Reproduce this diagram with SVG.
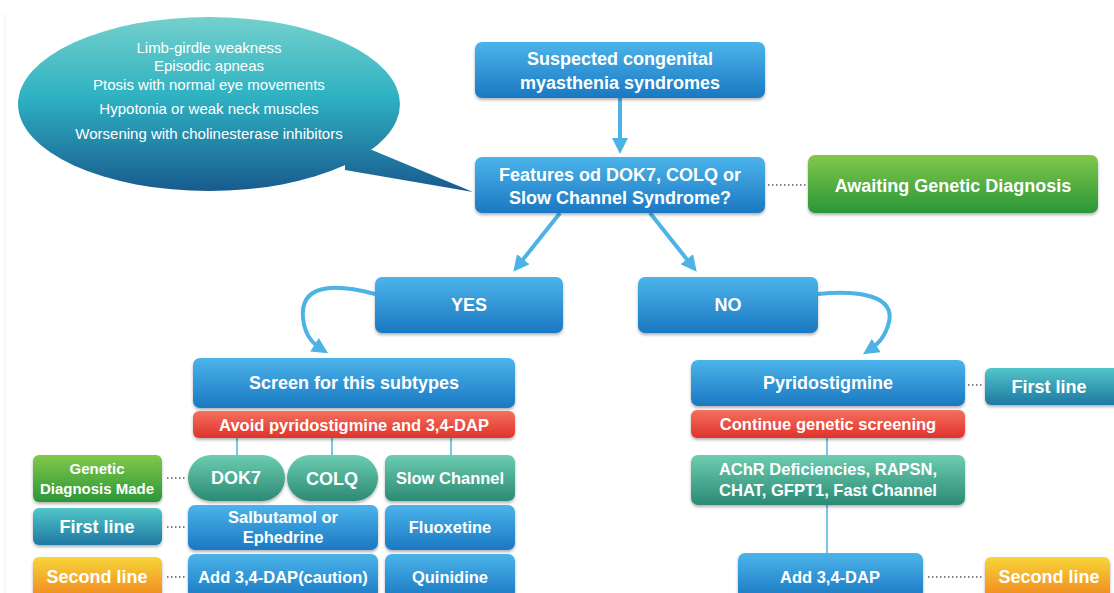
<svg xmlns="http://www.w3.org/2000/svg" width="1114" height="593" viewBox="0 0 1114 593">
<style>
text{font-family:"Liberation Sans",Arial,sans-serif;fill:#fff;text-anchor:middle;dominant-baseline:central}
.b{font-weight:bold;font-size:18px}
.m{font-weight:bold;font-size:18px}
.t{font-weight:bold;font-size:16.5px}
.s{font-size:15px}
.blue{fill:url(#gBlue);filter:url(#sh)}
.red{fill:url(#gRed);filter:url(#sh)}
.grn{fill:url(#gGrn);filter:url(#sh)}
.tea{fill:url(#gTeal);filter:url(#sh)}
.cyn{fill:url(#gCyan);filter:url(#sh)}
.org{fill:url(#gOrg);filter:url(#sh)}
.ln{stroke:#4cb3e4;stroke-width:4;fill:none}
.thin{stroke:#4cb3e4;stroke-width:1.5;fill:none}
.dot{stroke:#555;stroke-width:1.3;stroke-dasharray:1.5 2.5;fill:none}
</style>
<defs>
<linearGradient id="gBlue" x1="0" y1="0" x2="0" y2="1"><stop offset="0" stop-color="#4cb4ea"/><stop offset="1" stop-color="#1a78c2"/></linearGradient>
<linearGradient id="gRed" x1="0" y1="0" x2="0" y2="1"><stop offset="0" stop-color="#f4705f"/><stop offset="1" stop-color="#e0322a"/></linearGradient>
<linearGradient id="gGrn" x1="0" y1="0" x2="0" y2="1"><stop offset="0" stop-color="#82c84a"/><stop offset="1" stop-color="#2a9638"/></linearGradient>
<linearGradient id="gTeal" x1="0" y1="0" x2="0" y2="1"><stop offset="0" stop-color="#6ccdb0"/><stop offset="1" stop-color="#2b8a74"/></linearGradient>
<linearGradient id="gCyan" x1="0" y1="0" x2="0" y2="1"><stop offset="0" stop-color="#52c6c8"/><stop offset="1" stop-color="#1e78a2"/></linearGradient>
<linearGradient id="gOrg" x1="0" y1="0" x2="0" y2="1"><stop offset="0" stop-color="#f8d53a"/><stop offset="1" stop-color="#ef861e"/></linearGradient>
<linearGradient id="gEll" gradientUnits="userSpaceOnUse" x1="0" y1="17" x2="0" y2="192"><stop offset="0" stop-color="#74d0cc"/><stop offset="0.45" stop-color="#2fb2c2"/><stop offset="1" stop-color="#185a8e"/></linearGradient>
<filter id="sh" x="-10%" y="-20%" width="120%" height="150%"><feDropShadow dx="0" dy="2" stdDeviation="1.5" flood-color="#000" flood-opacity="0.3"/></filter>
<marker id="ah" markerWidth="4" markerHeight="4" refX="2.5" refY="2" orient="auto" markerUnits="strokeWidth"><path d="M0,0 L4,2 L0,4 Z" fill="#4cb3e4"/></marker>
</defs>
<rect width="1114" height="593" fill="#fff"/>
<line x1="5" y1="14" x2="5" y2="593" stroke="#eee" stroke-width="1"/>

<g id="connectors">
<line class="ln" x1="620" y1="98" x2="620" y2="148" marker-end="url(#ah)"/>
<line class="ln" x1="560" y1="213" x2="517" y2="267" marker-end="url(#ah)"/>
<line class="ln" x1="650" y1="213" x2="693" y2="267" marker-end="url(#ah)"/>
<path class="ln" d="M375,294 C330,282 300,286 303,318 C305,338 315,345 323,350" marker-end="url(#ah)"/>
<path class="ln" d="M818,294 C860,290 895,296 889,322 C885,338 877,345 868,351" marker-end="url(#ah)"/>
<line class="thin" x1="237" y1="438" x2="237" y2="456"/>
<line class="thin" x1="332" y1="438" x2="332" y2="456"/>
<line class="thin" x1="451" y1="438" x2="451" y2="456"/>
<line class="thin" x1="827" y1="438" x2="827" y2="456"/>
<line class="thin" x1="827" y1="505" x2="827" y2="553"/>
<line class="dot" x1="768" y1="185" x2="806" y2="185"/>
<line class="dot" x1="167" y1="478" x2="185" y2="478"/>
<line class="dot" x1="167" y1="527" x2="185" y2="527"/>
<line class="dot" x1="167" y1="577" x2="185" y2="577"/>
<line class="dot" x1="968" y1="385" x2="982" y2="385"/>
<line class="dot" x1="928" y1="577" x2="982" y2="577"/>
</g>

<g id="bubble">
<ellipse cx="209" cy="104" rx="191" ry="87" fill="url(#gEll)"/>
<path d="M345,150 L372,150 L473,192 L345,170 Z" fill="url(#gEll)"/>
<text class="s" x="209" y="47">Limb-girdle weakness</text>
<text class="s" x="209" y="65">Episodic apneas</text>
<text class="s" x="209" y="84">Ptosis with normal eye movements</text>
<text class="s" x="209" y="108">Hypotonia or weak neck muscles</text>
<text class="s" x="209" y="133">Worsening with cholinesterase inhibitors</text>
</g>

<g id="suspected"><rect class="blue" x="475" y="42" width="290" height="56" rx="7"/>
<text class="b" x="620" y="59">Suspected congenital</text><text class="b" x="620" y="83">myasthenia syndromes</text></g>

<g id="features"><rect class="blue" x="475" y="157" width="290" height="56" rx="7"/>
<text class="b" x="620" y="175">Features od DOK7, COLQ or</text><text class="b" x="620" y="198">Slow Channel Syndrome?</text></g>

<g id="awaiting"><rect class="grn" x="808" y="155" width="290" height="58" rx="7"/>
<text class="b" x="953" y="186">Awaiting Genetic Diagnosis</text></g>

<g id="yes"><rect class="blue" x="375" y="277" width="188" height="56" rx="7"/><text class="m" x="469" y="305">YES</text></g>
<g id="no"><rect class="blue" x="638" y="277" width="180" height="56" rx="7"/><text class="m" x="728" y="305">NO</text></g>

<g id="screen"><rect class="blue" x="193" y="358" width="322" height="50" rx="7"/><text class="m" x="354" y="383">Screen for this subtypes</text></g>
<g id="avoid"><rect class="red" x="193" y="411" width="322" height="27" rx="6"/><text class="t" x="354" y="425">Avoid pyridostigmine and 3,4-DAP</text></g>

<g id="dok7"><rect class="tea" x="188" y="455" width="97" height="46" rx="23"/><text class="m" x="236" y="478">DOK7</text></g>
<g id="colq"><rect class="tea" x="287" y="455" width="91" height="46" rx="23"/><text class="m" x="332" y="479">COLQ</text></g>
<g id="slow"><rect class="tea" x="385" y="455" width="130" height="46" rx="7"/><text class="t" x="450" y="478">Slow Channel</text></g>

<g id="genetic"><rect class="grn" x="33" y="455" width="129" height="47" rx="6"/>
<text x="97" y="468" style="font-size:15px;font-weight:bold">Genetic</text><text x="97" y="488" style="font-size:15px;font-weight:bold">Diagnosis Made</text></g>
<g id="first-left"><rect class="cyn" x="33" y="508" width="129" height="37" rx="6"/><text class="m" x="97" y="527">First line</text></g>
<g id="second-left"><rect class="org" x="33" y="557" width="129" height="42" rx="6"/><text class="m" x="97" y="577">Second line</text></g>

<g id="salbutamol"><rect class="blue" x="188" y="505" width="190" height="45" rx="7"/>
<text class="t" x="283" y="517">Salbutamol or</text><text class="t" x="283" y="537">Ephedrine</text></g>
<g id="fluoxetine"><rect class="blue" x="385" y="505" width="130" height="45" rx="7"/><text class="t" x="450" y="527">Fluoxetine</text></g>
<g id="add-caution"><rect class="blue" x="188" y="554" width="190" height="45" rx="7"/><text class="t" x="283" y="577">Add 3,4-DAP(caution)</text></g>
<g id="quinidine"><rect class="blue" x="385" y="554" width="130" height="45" rx="7"/><text class="t" x="450" y="577">Quinidine</text></g>

<g id="pyridostigmine"><rect class="blue" x="691" y="360" width="274" height="46" rx="7"/><text class="m" x="828" y="383">Pyridostigmine</text></g>
<g id="continue"><rect class="red" x="691" y="410" width="274" height="28" rx="6"/><text class="t" x="828" y="424">Continue genetic screening</text></g>
<g id="achr"><rect class="tea" x="691" y="455" width="274" height="50" rx="7"/>
<text class="t" x="828" y="469">AChR Deficiencies, RAPSN,</text><text class="t" x="828" y="490">CHAT, GFPT1, Fast Channel</text></g>
<g id="first-right"><rect class="cyn" x="985" y="368" width="135" height="37" rx="6"/><text class="m" x="1049" y="387">First line</text></g>
<g id="add-dap"><rect class="blue" x="738" y="553" width="185" height="46" rx="7"/><text class="t" x="830" y="577">Add 3,4-DAP</text></g>
<g id="second-right"><rect class="org" x="985" y="557" width="125" height="42" rx="6"/><text class="m" x="1049" y="577">Second line</text></g>
</svg>
